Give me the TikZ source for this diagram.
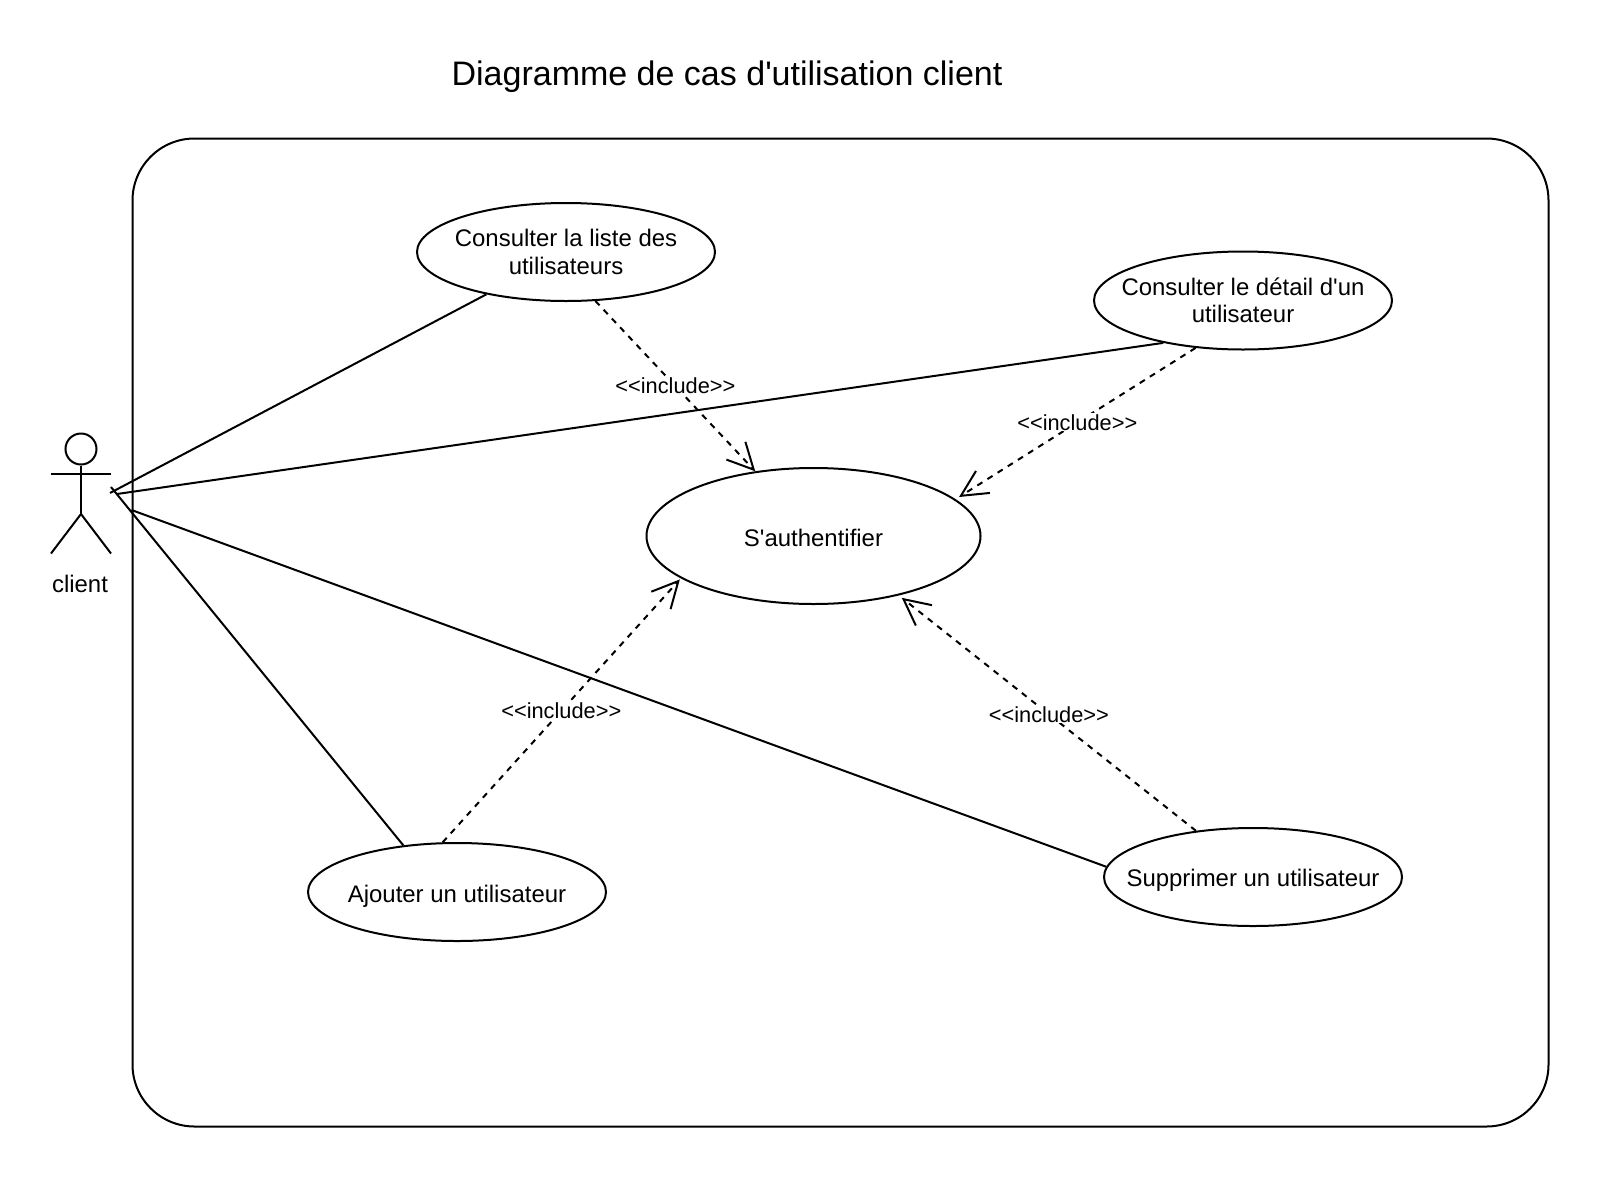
\documentclass[tikz,border=0pt]{standalone}
\usepackage{fontspec}
\setmainfont{Liberation Sans}
\usetikzlibrary{arrows.meta,shapes.geometric,calc}
\tikzset{
    usecase/.style={ellipse, draw, line width=2pt, inner ysep=0pt, inner xsep=-30pt, align=center,
        minimum width=298pt, minimum height=98pt,
        font=\fontsize{23.95}{27.5}\selectfont},
    include/.style={line width=2pt, dash pattern=on 6pt off 6pt,
        -{Straight Barb[length=26pt,width=26pt]}},
    includelabel/.style={fill=white, inner sep=1pt, font=\fontsize{21.8}{26}\selectfont}
}

\begin{document}
\begin{tikzpicture}[x=1pt, y=-1pt, line width=2pt]
    \useasboundingbox (0,0) rectangle (1600,1178);
    % Title and system boundary
    \node (title) at (727,77) {\fontsize{34}{40}\selectfont Diagramme de cas d\textquotesingle utilisation client};
    \node[draw, line width=2pt, rounded corners=62pt, minimum width=1416pt, minimum height=988pt] (boundary) at (840.5,632.5) {};
    % Actor
    \node[circle, draw, line width=2pt, inner sep=0pt, minimum size=31pt] (head) at (81,449) {};
    \coordinate (hip) at (81,514);
    \draw (head) -- (hip);
    \draw (51,474) -- (111,474);
    \draw (51,553.5) -- (hip) -- (111,553.5);
    \node[font=\fontsize{23.95}{27.5}\selectfont] (client) at (80,584) {client};
    % Use cases
    \node[usecase] (liste) at (566,252) {Consulter la liste des\\utilisateurs};
    \node[usecase] (detail) at (1243,300.5) {Consulter le d\'etail d\textquotesingle un\\utilisateur};
    \node[usecase, minimum width=334pt, minimum height=136pt, text height=21pt, text depth=0pt] (auth) at (813.5,536) {S\textquotesingle authentifier};
    \node[usecase, text height=20pt, text depth=0pt] (ajouter) at (457,892) {Ajouter un utilisateur};
    \node[usecase, text height=18pt, text depth=0pt] (supprimer) at (1253,877) {Supprimer un utilisateur};
    % Free ends of the lines near the actor
    \coordinate (c1) at (110,493);
    \coordinate (c2) at (117,494);
    \coordinate (c3) at (131.5,510);
    \coordinate (c4) at (111,487);
    % Associations
    \foreach \a/\b in {c1/liste.208.6, c2/detail.208, c3/supprimer.176.7, c4/ajouter.139.5} {
        \draw (\a) -- (\b);
    }
    % Include dependencies, the tips stop just outside the ellipse
    \foreach \a/\e/\s in {liste.301.3/132.4/0pt, detail.225.1/15.1/-5pt, ajouter.106/198.4/-2pt, supprimer.141.6/325.8/-4pt} {
        \draw[include] (\a) -- node[includelabel] {{<}{<}include{>}{>}} ($(auth.\e)!\s!(auth)$);
    }
\end{tikzpicture}
\end{document}
